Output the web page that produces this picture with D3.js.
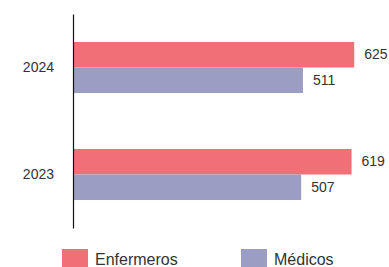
<!DOCTYPE html>
<html><head><meta charset="utf-8">
<script src="https://cdn.jsdelivr.net/npm/d3@7"></script>
<style>body{margin:0;background:#fff}svg{display:block}text{font-family:"Liberation Sans",Arial,sans-serif;fill:#333}</style>
</head><body><svg width="389" height="267"></svg>
<script>
const years = ["2024", "2023"];
const seriesNames = ["Enfermeros", "Médicos"];
const enfermeros = [625, 619];
const medicos = [511, 507];
const colors = ["#f16f77", "#9b9dc2"];

const svg = d3.select("svg");
const x = d3.scaleLinear().domain([0, 700]).range([73, 388]);
const y = d3.scaleBand().domain(years).range([14, 228]).paddingInner(0.523).paddingOuter(0.2615);
const sub = d3.scaleBand().domain(seriesNames).range([0, y.bandwidth()]);
const values = [enfermeros, medicos];

seriesNames.forEach((s, si) => {
  const g = svg.append("g");
  g.selectAll("rect").data(years).join("rect")
    .attr("x", x(0))
    .attr("y", d => y(d) + sub(s))
    .attr("width", (d, i) => x(values[si][i]) - x(0))
    .attr("height", sub.bandwidth())
    .attr("fill", colors[si]);
  g.selectAll("text").data(years).join("text")
    .attr("x", (d, i) => x(values[si][i]) + 10)
    .attr("y", d => y(d) + sub(s) + sub.bandwidth() / 2)
    .attr("dy", "0.32em")
    .attr("font-size", 14)
    .text((d, i) => values[si][i]);
});

const axis = svg.append("g").attr("transform", `translate(${x(0)},0)`)
  .call(d3.axisLeft(y).tickSize(0).tickPadding(19));
axis.select(".domain").attr("stroke", "#111").attr("stroke-width", 1.2);
axis.selectAll("text").attr("font-size", 14).attr("fill", "#333")
  .style("font-family", '"Liberation Sans",Arial,sans-serif');

const legendX = [62, 241];
const leg = svg.append("g");
seriesNames.forEach((s, i) => {
  leg.append("rect").attr("x", legendX[i]).attr("y", 249).attr("width", 26).attr("height", 18).attr("fill", colors[i]);
  leg.append("text").attr("x", legendX[i] + 33).attr("y", 265).attr("font-size", 16).text(s);
});
</script></body></html>
